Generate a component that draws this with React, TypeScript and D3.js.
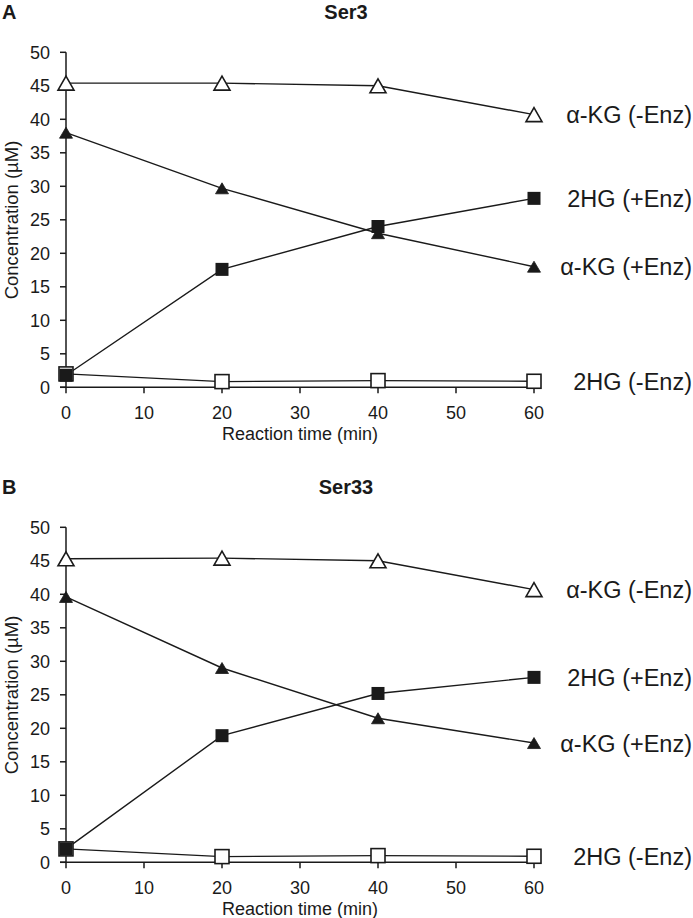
import React from "react";
import * as d3 from "d3";

// ---- data ----
const TIMES = [0, 20, 40, 60];
const X_TICKS = [0, 10, 20, 30, 40, 50, 60];
const Y_TICKS = [0, 5, 10, 15, 20, 25, 30, 35, 40, 45, 50];
const PANEL_LETTERS = ["A", "B"];
const PANEL_TITLES = ["Ser3", "Ser33"];
const SERIES_NAMES = ["α-KG (-Enz)", "2HG (+Enz)", "α-KG (+Enz)", "2HG (-Enz)"];
const SERIES_MARKERS = ["openTri", "fillSq", "fillTri", "openSq"];

const SER3_AKG_NOENZ = [45.4, 45.4, 45.0, 40.7];
const SER3_HG_ENZ = [1.8, 17.6, 24.0, 28.2];
const SER3_AKG_ENZ = [38.0, 29.7, 23.0, 18.0];
const SER3_HG_NOENZ = [2.0, 0.85, 1.0, 0.9];

const SER33_AKG_NOENZ = [45.3, 45.4, 45.0, 40.7];
const SER33_HG_ENZ = [2.0, 18.9, 25.2, 27.6];
const SER33_AKG_ENZ = [39.6, 29.0, 21.5, 17.8];
const SER33_HG_NOENZ = [2.0, 0.85, 1.0, 0.9];

const PANELS = [
  [SER3_AKG_NOENZ, SER3_HG_ENZ, SER3_AKG_ENZ, SER3_HG_NOENZ],
  [SER33_AKG_NOENZ, SER33_HG_ENZ, SER33_AKG_ENZ, SER33_HG_NOENZ],
];

const W = 693;
const H = 918;
const FONT = "'Liberation Sans', Arial, Helvetica, sans-serif";
const INK = "#1a1a1a";

function Marker({ type, x, y }: { type: string; x: number; y: number }) {
  if (type === "openTri") {
    const w = 16, h = 14;
    const d = `M${x},${y - h / 2}L${x + w / 2},${y + h / 2}L${x - w / 2},${y + h / 2}Z`;
    return <path d={d} fill="#fff" stroke={INK} strokeWidth={1.6} strokeLinejoin="miter" />;
  }
  if (type === "fillTri") {
    const w = 13, h = 11;
    const d = `M${x},${y - h / 2}L${x + w / 2},${y + h / 2}L${x - w / 2},${y + h / 2}Z`;
    return <path d={d} fill={INK} stroke={INK} strokeWidth={0.8} />;
  }
  if (type === "fillSq") {
    const s = 13;
    return <rect x={x - s / 2} y={y - s / 2} width={s} height={s} fill={INK} />;
  }
  const s = 14;
  return <rect x={x - s / 2} y={y - s / 2} width={s} height={s} fill="#fff" stroke={INK} strokeWidth={1.6} />;
}

function Panel({ idx }: { idx: number }) {
  const off = idx * 475;
  const x = d3.scaleLinear().domain([0, 60]).range([66, 534]);
  const y = d3.scaleLinear().domain([0, 50]).range([387.3 + off, 52.3 + off]);
  const series = PANELS[idx];
  const line = d3
    .line<number>()
    .x((_, i) => x(TIMES[i]))
    .y((v) => y(v));
  const drawOrder = [3, 1, 2, 0];
  return (
    <g>
      <text x={2} y={19 + off} fontFamily={FONT} fontWeight="bold" fontSize={20} fill={INK}>
        {PANEL_LETTERS[idx]}
      </text>
      <text x={346} y={19 + off} textAnchor="middle" fontFamily={FONT} fontWeight="bold" fontSize={20} fill={INK}>
        {PANEL_TITLES[idx]}
      </text>
      {/* y axis */}
      <line x1={x(0)} x2={x(0)} y1={y(50)} y2={y(0)} stroke={INK} strokeWidth={1.5} />
      {Y_TICKS.map((t) => (
        <g key={"y" + t}>
          <line x1={x(0) - 6} x2={x(0)} y1={y(t)} y2={y(t)} stroke={INK} strokeWidth={1.5} />
          <text x={50} y={y(t)} dy="0.36em" textAnchor="end" fontFamily={FONT} fontSize={18} fill={INK}>
            {t}
          </text>
        </g>
      ))}
      {/* x axis */}
      <line x1={x(0) - 6} x2={x(60)} y1={y(0)} y2={y(0)} stroke={INK} strokeWidth={1.5} />
      {X_TICKS.map((t) => (
        <g key={"x" + t}>
          <line x1={x(t)} x2={x(t)} y1={y(0)} y2={y(0) + 6} stroke={INK} strokeWidth={1.5} />
          <text x={x(t)} y={418.5 + off} textAnchor="middle" fontFamily={FONT} fontSize={18} fill={INK}>
            {t}
          </text>
        </g>
      ))}
      <text x={300} y={439.5 + off} textAnchor="middle" fontFamily={FONT} fontSize={18} fill={INK}>
        Reaction time (min)
      </text>
      <text
        transform={`translate(17.5,${220 + off}) rotate(-90)`}
        textAnchor="middle"
        fontFamily={FONT}
        fontSize={18.5}
        fill={INK}
      >
        Concentration (µM)
      </text>
      {/* lines */}
      {series.map((s, i) => (
        <path key={"l" + i} d={line(s) || ""} fill="none" stroke={INK} strokeWidth={1.4} />
      ))}
      {/* markers */}
      {drawOrder.map((si) =>
        series[si].map((v, j) => <Marker key={`m${si}-${j}`} type={SERIES_MARKERS[si]} x={x(TIMES[j])} y={y(v)} />)
      )}
      {/* series labels */}
      {series.map((s, i) => (
        <text
          key={"lab" + i}
          x={692}
          y={y(s[s.length - 1])}
          dy="0.36em"
          textAnchor="end"
          fontFamily={FONT}
          fontSize={23.5}
          fill={INK}
        >
          {SERIES_NAMES[i]}
        </text>
      ))}
    </g>
  );
}

export default function App() {
  return (
    <svg
      width={W}
      height={H}
      viewBox={`0 0 ${W} ${H}`}
      style={{ position: "absolute", left: 0, top: 0, background: "#fff" }}
    >
      <rect width={W} height={H} fill="#fff" />
      <Panel idx={0} />
      <Panel idx={1} />
    </svg>
  );
}
